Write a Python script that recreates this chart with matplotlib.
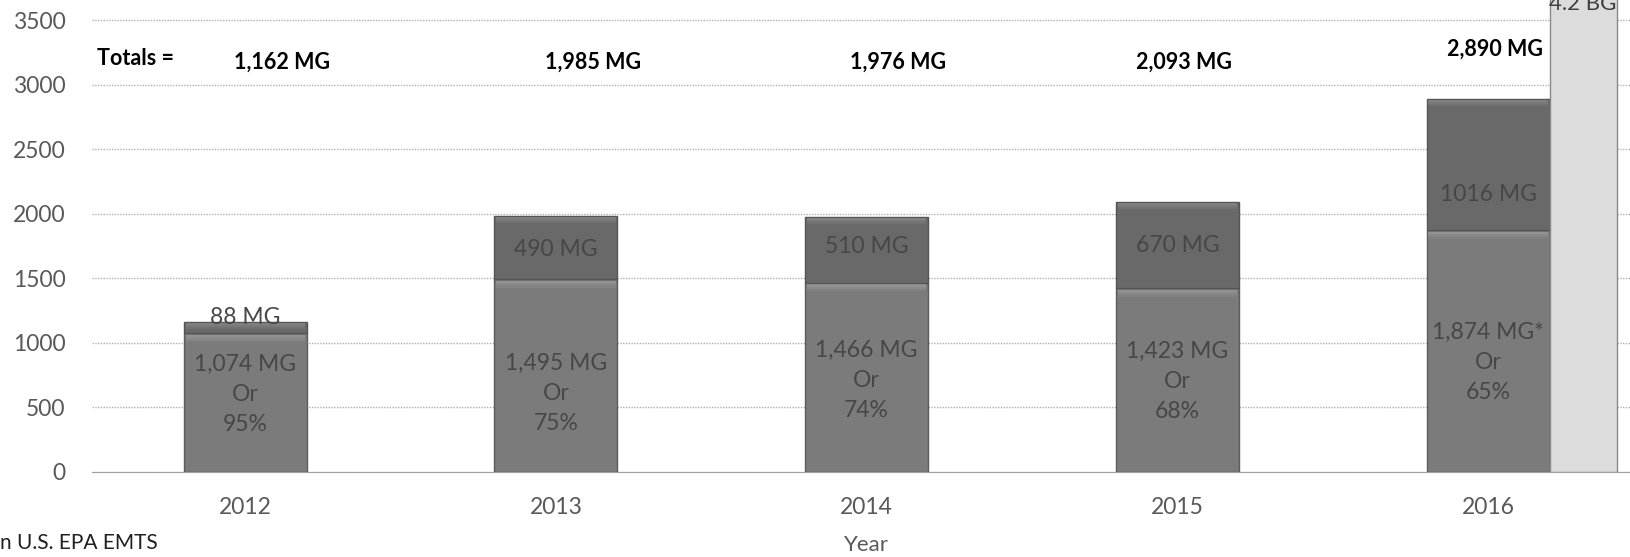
import numpy as np
import matplotlib
matplotlib.use('Agg')
import matplotlib.pyplot as plt

plt.rcParams['font.family'] = ['Lato', 'DejaVu Sans']

# data
years = ['2012', '2013', '2014', '2015', '2016']
base_mg = [1074, 1495, 1466, 1423, 1874]
added_mg = [88, 490, 510, 670, 1016]
base_labels = ['1,074 MG\nOr\n95%', '1,495 MG\nOr\n75%', '1,466 MG\nOr\n74%',
               '1,423 MG\nOr\n68%', '1,874 MG*\nOr\n65%']
added_labels = ['88 MG', '490 MG', '510 MG', '670 MG', '1016 MG']
total_labels = ['1,162 MG', '1,985 MG', '1,976 MG', '2,093 MG', '2,890 MG']
target_bg = 4200
target_label = '4.2 BG'

# label heights (layout)
base_label_y = [600, 610, 710, 700, 850]
added_label_y = [1193, 1720, 1743, 1758, 2146]
total_label_y = [3173, 3173, 3173, 3173, 3276]
total_label_x = [0.12, 1.12, 2.10, 3.02, 4.0]

fig = plt.figure(figsize=(16.31, 5.57), dpi=100)
ax = fig.add_axes([92 / 1631, 85 / 557, 1 - 92 / 1631, 1 - 85 / 557])

x = np.arange(len(years))
width = 0.396
base_col = '#7b7b7b'
top_col = '#696969'
ax.bar(x, base_mg, width, color=base_col, edgecolor='#5c5c5c', linewidth=1, zorder=3)
ax.bar(x, added_mg, width, bottom=base_mg, color=top_col, edgecolor='#555555', linewidth=1, zorder=3)

# soft bevel highlight at top of each segment
tot = np.array(base_mg) + np.array(added_mg)
for k, a in enumerate([0.45, 0.3, 0.15]):
    ax.bar(x, [18] * len(x), width * 0.97, bottom=np.array(base_mg) - 30 - 18 * k,
           color='#b0b0b0', alpha=a, linewidth=0, zorder=4)
    ax.bar(x, [15] * len(x), width * 0.97, bottom=tot - 25 - 15 * k,
           color='#a0a0a0', alpha=a, linewidth=0, zorder=4)

# 2016 target bar
ax.bar(x[-1] + width / 2, target_bg, 0.216, align='edge', color='#dcdcdc',
       edgecolor='#8a8a8a', linewidth=1, zorder=3)
ax.text(x[-1] + width / 2 + 0.108, 3628, target_label, ha='center', va='center',
        fontsize=16, color='#404040', zorder=5)

for i in range(len(x)):
    ax.text(x[i], base_label_y[i], base_labels[i], ha='center', va='center',
            fontsize=16.5, color='#474747', linespacing=1.55, zorder=5)
    ax.text(x[i], added_label_y[i], added_labels[i], ha='center', va='center',
            fontsize=16.5, color='#474747', zorder=5)
    ha = 'right' if i == len(x) - 1 else 'center'
    xx = x[i] + width / 2 - 0.02 if i == len(x) - 1 else total_label_x[i]
    ax.text(xx, total_label_y[i], total_labels[i], ha=ha, va='center',
            fontsize=15.5, fontweight='bold', color='black', zorder=5)

ax.text(-0.476, 3206, 'Totals =', ha='left', va='center', fontsize=15.5,
        fontweight='bold', color='black')

ax.set_xlim(-0.493, 4.46)
ax.set_ylim(0, 3656)
ax.set_yticks(np.arange(0, 3501, 500))
ax.set_xticks(x)
ax.set_xticklabels(years)
ax.tick_params(axis='y', length=0, pad=19, labelsize=16.5, labelcolor='#595959')
ax.tick_params(axis='x', length=0, pad=18, labelsize=16.5, labelcolor='#595959')
ax.grid(axis='y', linestyle=(0, (1, 1)), color='#b0b0b0', linewidth=1, zorder=0)
ax.set_axisbelow(True)
for s in ['top', 'right', 'left']:
    ax.spines[s].set_visible(False)
ax.spines['bottom'].set_linestyle((0, (1, 1)))
ax.spines['bottom'].set_color('#a0a0a0')

fig.text(866 / 1631, 1 - 545 / 557, 'Year', ha='center', va='center', fontsize=16, color='#595959')
fig.text(0, 1 - 543 / 557, 'n U.S. EPA EMTS', ha='left', va='center', fontsize=15, color='#202020')

fig.savefig('out.png', dpi=100)
